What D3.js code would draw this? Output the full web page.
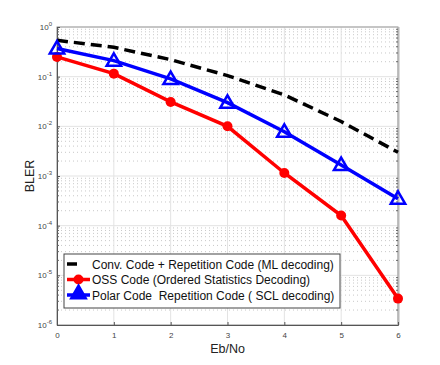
<!DOCTYPE html>
<html>
<head>
<meta charset="utf-8">
<script src="https://cdn.jsdelivr.net/npm/d3@7"></script>
<style>
  body { margin: 0; background: #fff; }
  svg { font-family: "Liberation Sans", Arial, sans-serif; }
</style>
</head>
<body>
<div id="chart"></div>
<script>
// Eb/No values
var ebno = [0, 1, 2, 3, 4, 5, 6];
// BLER per scheme
var convRep = [0.54, 0.39, 0.22, 0.105, 0.043, 0.0125, 0.003];
var ossCode = [0.25, 0.115, 0.031, 0.01, 0.00115, 0.00016, 0.0000034];
var polarRep = [0.37, 0.21, 0.09, 0.03, 0.0078, 0.00167, 0.00035];
var seriesNames = [
    "Conv. Code + Repetition Code (ML decoding)",
    "OSS Code (Ordered Statistics Decoding)",
    "Polar Code  Repetition Code ( SCL decoding)"
];
var xTicks = [0, 1, 2, 3, 4, 5, 6];
var yExponents = [0, -1, -2, -3, -4, -5, -6];

var main = function () {
    "use strict";

    var margin = {top: 27, right: 42, bottom: 40, left: 57},
        width = 440 - margin.left - margin.right,
        height = 365 - margin.top - margin.bottom;

    var svg = d3.select("#chart").append("svg")
        .attr("width", 440)
        .attr("height", 365);

    var g = svg.append("g")
        .attr("transform", "translate(" + margin.left + "," + margin.top + ")");

    var x = d3.scaleLinear().domain([0, 6]).range([0, width]);
    var y = d3.scaleLog().domain([1e-6, 1]).range([height, 0]);

    // minor grid (dotted, horizontal only)
    var minor = [];
    yExponents.slice(0, -1).forEach(function (e) {
        for (var k = 2; k <= 9; k++) minor.push(k * Math.pow(10, e - 1));
    });
    g.append("g").selectAll("line").data(minor).enter().append("line")
        .attr("x1", 0).attr("x2", width)
        .attr("y1", function (d) { return y(d); })
        .attr("y2", function (d) { return y(d); })
        .attr("stroke", "#c8c8c8")
        .attr("stroke-width", 1)
        .attr("stroke-dasharray", "1,3");

    // major grid
    g.append("g").selectAll("line").data(yExponents).enter().append("line")
        .attr("x1", 0).attr("x2", width)
        .attr("y1", function (d) { return y(Math.pow(10, d)); })
        .attr("y2", function (d) { return y(Math.pow(10, d)); })
        .attr("stroke", "#e3e3e3");
    g.append("g").selectAll("line").data(xTicks).enter().append("line")
        .attr("y1", 0).attr("y2", height)
        .attr("x1", function (d) { return x(d); })
        .attr("x2", function (d) { return x(d); })
        .attr("stroke", "#e3e3e3");

    // box
    g.append("rect")
        .attr("width", width).attr("height", height)
        .attr("fill", "none")
        .attr("stroke", "#9a9a9a");
    g.append("line")
        .attr("x1", width + 0.5).attr("x2", width + 0.5)
        .attr("y1", 0).attr("y2", height)
        .attr("stroke", "#b8b8b8").attr("stroke-width", 2);

    // axes
    var xAxis = g.append("g")
        .attr("transform", "translate(0," + height + ")")
        .call(d3.axisBottom(x).tickValues(xTicks).tickSize(-3).tickPadding(7)
            .tickFormat(d3.format("d")));
    var yAxis = g.append("g")
        .call(d3.axisLeft(y).tickValues(yExponents.map(function (e) { return Math.pow(10, e); }))
            .tickSize(-3).tickPadding(5).tickFormat(""));
    [xAxis, yAxis].forEach(function (a) {
        a.select(".domain").attr("stroke", "#555");
        a.selectAll(".tick line").attr("stroke", "#555");
        a.selectAll("text").attr("fill", "#444").style("font-size", "8px")
            .style("font-family", "Liberation Sans, Arial, sans-serif");
    });

    // minor ticks on left and right
    [0, width].forEach(function (xp) {
        g.append("g").selectAll("line").data(minor).enter().append("line")
            .attr("x1", xp).attr("x2", xp === 0 ? 2 : xp - 2)
            .attr("y1", function (d) { return y(d); })
            .attr("y2", function (d) { return y(d); })
            .attr("stroke", "#666");
    });

    // y tick labels with superscripts
    var yl = g.append("g").selectAll("text").data(yExponents).enter().append("text")
        .attr("x", -5)
        .attr("y", function (d) { return y(Math.pow(10, d)) + 3; })
        .attr("text-anchor", "end")
        .attr("fill", "#444")
        .style("font-size", "8px");
    yl.append("tspan").text("10");
    yl.append("tspan").attr("dy", -4).style("font-size", "6px").text(function (d) { return d; });

    // axis titles
    g.append("text")
        .attr("x", width / 2).attr("y", height + 28)
        .attr("text-anchor", "middle")
        .style("font-size", "12.5px").attr("fill", "#222")
        .text("Eb/No");
    g.append("text")
        .attr("transform", "translate(-23," + (height / 2) + ") rotate(-90)")
        .attr("text-anchor", "middle")
        .style("font-size", "12.5px").attr("fill", "#222")
        .text("BLER");

    var line = d3.line()
        .x(function (d) { return x(d.x); })
        .y(function (d) { return y(d.y); });
    function pts(vals) {
        return ebno.map(function (e, i) { return {x: e, y: vals[i]}; });
    }

    var tri = d3.symbol().type(d3.symbolTriangle).size(90);

    // dashed black
    g.append("path").datum(pts(convRep))
        .attr("d", line).attr("fill", "none")
        .attr("stroke", "#000").attr("stroke-width", 3.5)
        .attr("stroke-dasharray", "11,6");

    // red with circles
    g.append("path").datum(pts(ossCode))
        .attr("d", line).attr("fill", "none")
        .attr("stroke", "#ff0000").attr("stroke-width", 3.5);
    g.append("g").selectAll("circle").data(pts(ossCode)).enter().append("circle")
        .attr("cx", function (d) { return x(d.x); })
        .attr("cy", function (d) { return y(d.y); })
        .attr("r", 5).attr("fill", "#ff0000");

    // blue with triangles
    g.append("path").datum(pts(polarRep))
        .attr("d", line).attr("fill", "none")
        .attr("stroke", "#0000ff").attr("stroke-width", 3.5);
    g.append("g").selectAll("path").data(pts(polarRep)).enter().append("path")
        .attr("d", tri)
        .attr("transform", function (d) { return "translate(" + x(d.x) + "," + (y(d.y) + 1) + ")"; })
        .attr("fill", "none").attr("stroke", "#0000ff").attr("stroke-width", 2.5);

    // legend
    var lg = svg.append("g").attr("transform", "translate(64,254)");
    lg.append("rect").attr("width", 276).attr("height", 54)
        .attr("fill", "#fff").attr("stroke", "#444").attr("stroke-width", 1);
    var rowY = [10, 25.5, 41];
    lg.selectAll("text").data(seriesNames).enter().append("text")
        .attr("x", 28).attr("y", function (d, i) { return rowY[i] + 4.5; })
        .style("font-size", "12px").style("white-space", "pre").attr("fill", "#111")
        .text(function (d) { return d; });
    lg.append("line").attr("x1", 3).attr("x2", 13).attr("y1", rowY[0]).attr("y2", rowY[0])
        .attr("stroke", "#000").attr("stroke-width", 3.5);
    lg.append("line").attr("x1", 3).attr("x2", 26).attr("y1", rowY[1]).attr("y2", rowY[1])
        .attr("stroke", "#ff0000").attr("stroke-width", 3.5);
    lg.append("circle").attr("cx", 14.5).attr("cy", rowY[1]).attr("r", 5).attr("fill", "#ff0000");
    lg.append("line").attr("x1", 3).attr("x2", 26).attr("y1", rowY[2]).attr("y2", rowY[2])
        .attr("stroke", "#0000ff").attr("stroke-width", 3.5);
    lg.append("path").attr("d", tri).attr("transform", "translate(14.5," + (rowY[2] - 1) + ")")
        .attr("fill", "#0000ff").attr("stroke", "#0000ff").attr("stroke-width", 2.5);
};

main();
</script>
</body>
</html>
